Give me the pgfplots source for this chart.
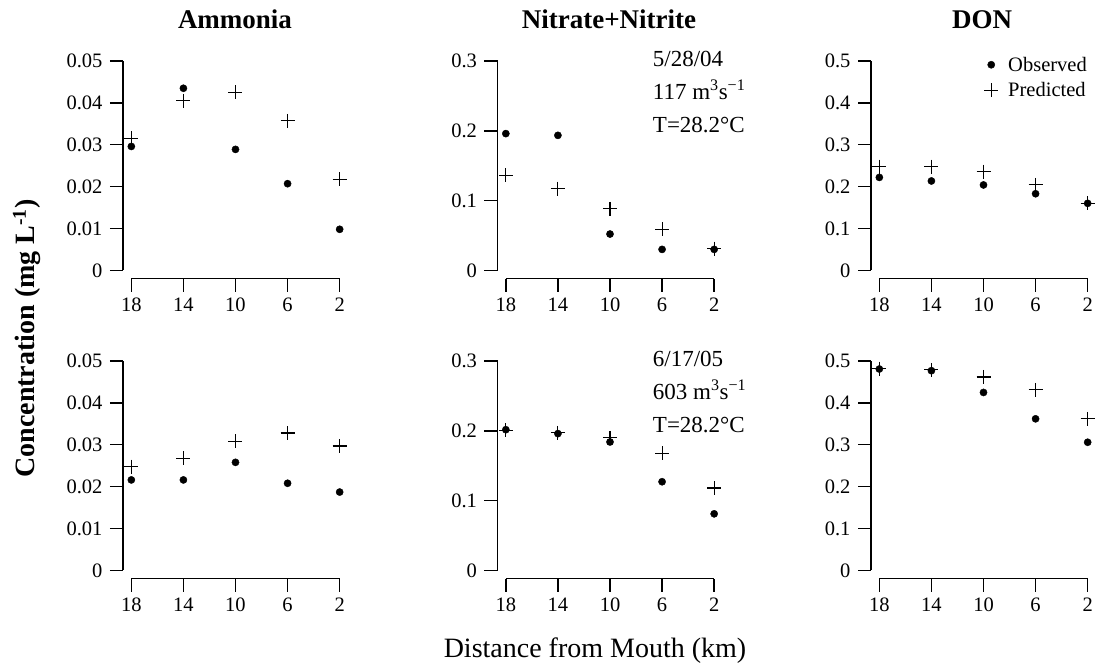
\documentclass[border=0pt]{standalone}
\usepackage{fontspec}
\setmainfont{Liberation Serif}
\usepackage{pgfplots}
\pgfplotsset{compat=1.18}

\pgfplotsset{
 panel/.style={
  scale only axis, width=225pt, height=226pt,
  anchor=south west,
  x dir=reverse, xmin=1.36, xmax=18.64,
  xtick={18,14,10,6,2},
  axis line style={draw=none},
  tick pos=left,
  tick align=outside,
  every tick/.style={black, line width=1.4pt},
  major tick length=13pt,
  xticklabel shift=3pt,
  yticklabel shift=4pt,
  tick label style={font=\fontsize{20.5}{24}\selectfont},
  /pgf/number format/assume math mode=true,
  scaled y ticks=false,
  yticklabel style={/pgf/number format/fixed, /pgf/number format/precision=2},
  clip=false,
  only marks,
 },
 obs/.style={mark=*, mark size=3.6pt, black},
 pred/.style={mark=+, mark size=7pt, black, mark options={line width=1.1pt}},
}
\newcommand\frameaxes[1]{%
 \draw[line width=1.4pt] ({axis cs:18,0}|-{axis description cs:0,0}) -- ({axis cs:2,0}|-{axis description cs:0,0});
 \draw[line width=1.4pt] ({axis description cs:0,0}|-{axis cs:18,0}) -- ({axis description cs:0,0}|-{axis cs:18,#1});
}
\newcommand\annot[3]{%
 \node[anchor=base west, font=\fontsize{23}{28}\selectfont, inner sep=0pt] at ([yshift=-14pt]axis description cs:0.69,1) {#1};
 \node[anchor=base west, font=\fontsize{23}{28}\selectfont, inner sep=0pt] at ([yshift=-47pt]axis description cs:0.69,1) {#2};
 \node[anchor=base west, font=\fontsize{23}{28}\selectfont, inner sep=0pt] at ([yshift=-80pt]axis description cs:0.69,1) {#3};
}

\begin{document}
\begin{tikzpicture}[x=1pt,y=1pt]
\path[use as bounding box] (0,0) rectangle (1096,666);

% ---------- Row 1 ----------
\begin{axis}[panel, at={(123pt,387.3pt)}, ymin=-0.002, ymax=0.052, ytick={0,0.01,0.02,0.03,0.04,0.05}]
\addplot[obs] coordinates {(18,0.0296) (14,0.0435) (10,0.0289) (6,0.0207) (2,0.0098)};
\addplot[pred] coordinates {(18,0.0315) (14,0.0405) (10,0.0425) (6,0.0357) (2,0.0218)};
\frameaxes{0.05}
\end{axis}

\begin{axis}[panel, at={(497.5pt,387.3pt)}, ymin=-0.012, ymax=0.312, ytick={0,0.1,0.2,0.3}]
\addplot[obs] coordinates {(18,0.196) (14,0.1935) (10,0.052) (6,0.030) (2,0.030)};
\addplot[pred] coordinates {(18,0.136) (14,0.117) (10,0.088) (6,0.0587) (2,0.031)};
\frameaxes{0.3}
\annot{5/28/04}{117 m\textsuperscript{3}s\textsuperscript{−1}}{T=28.2°C}
\end{axis}

\begin{axis}[panel, at={(871pt,387.3pt)}, ymin=-0.02, ymax=0.52, ytick={0,0.1,0.2,0.3,0.4,0.5},
  legend style={draw=none, fill=none, at={(axis description cs:1,1)}, anchor=north east,
  xshift=-4pt, yshift=0pt, font=\fontsize{20.5}{24}\selectfont, row sep=6pt, column sep=8pt}, legend cell align=left]
\addplot[obs] coordinates {(18,0.222) (14,0.2135) (10,0.204) (6,0.183) (2,0.160)};
\addplot[pred] coordinates {(18,0.248) (14,0.248) (10,0.236) (6,0.204) (2,0.160)};
\legend{Observed, Predicted}
\frameaxes{0.5}
\end{axis}

% ---------- Row 2 ----------
\begin{axis}[panel, at={(123pt,87.3pt)}, ymin=-0.002, ymax=0.052, ytick={0,0.01,0.02,0.03,0.04,0.05}]
\addplot[obs] coordinates {(18,0.0216) (14,0.0216) (10,0.0258) (6,0.0208) (2,0.0187)};
\addplot[pred] coordinates {(18,0.0248) (14,0.0268) (10,0.0308) (6,0.0328) (2,0.0297)};
\frameaxes{0.05}
\end{axis}

\begin{axis}[panel, at={(497.5pt,87.3pt)}, ymin=-0.012, ymax=0.312, ytick={0,0.1,0.2,0.3}]
\addplot[obs] coordinates {(18,0.2016) (14,0.196) (10,0.184) (6,0.127) (2,0.081)};
\addplot[pred] coordinates {(18,0.2007) (14,0.197) (10,0.190) (6,0.168) (2,0.118)};
\frameaxes{0.3}
\annot{6/17/05}{603 m\textsuperscript{3}s\textsuperscript{−1}}{T=28.2°C}
\end{axis}

\begin{axis}[panel, at={(871pt,87.3pt)}, ymin=-0.02, ymax=0.52, ytick={0,0.1,0.2,0.3,0.4,0.5}]
\addplot[obs] coordinates {(18,0.481) (14,0.477) (10,0.425) (6,0.362) (2,0.306)};
\addplot[pred] coordinates {(18,0.482) (14,0.479) (10,0.462) (6,0.431) (2,0.362)};
\frameaxes{0.5}
\end{axis}

% ---------- Titles and labels ----------
\node[anchor=base, font=\fontsize{27}{32}\selectfont\bfseries] at (235,637) {Ammonia};
\node[anchor=base, font=\fontsize{27}{32}\selectfont\bfseries] at (609,637) {Nitrate+Nitrite};
\node[anchor=base, font=\fontsize{27}{32}\selectfont\bfseries] at (982,637) {DON};
\node[rotate=90, anchor=center, font=\fontsize{28}{32}\selectfont\bfseries] at (27,327.5) {Concentration (mg L\textsuperscript{-1})};
\node[anchor=base, font=\fontsize{28}{32}\selectfont] at (595,8) {Distance from Mouth (km)};
\end{tikzpicture}
\end{document}
